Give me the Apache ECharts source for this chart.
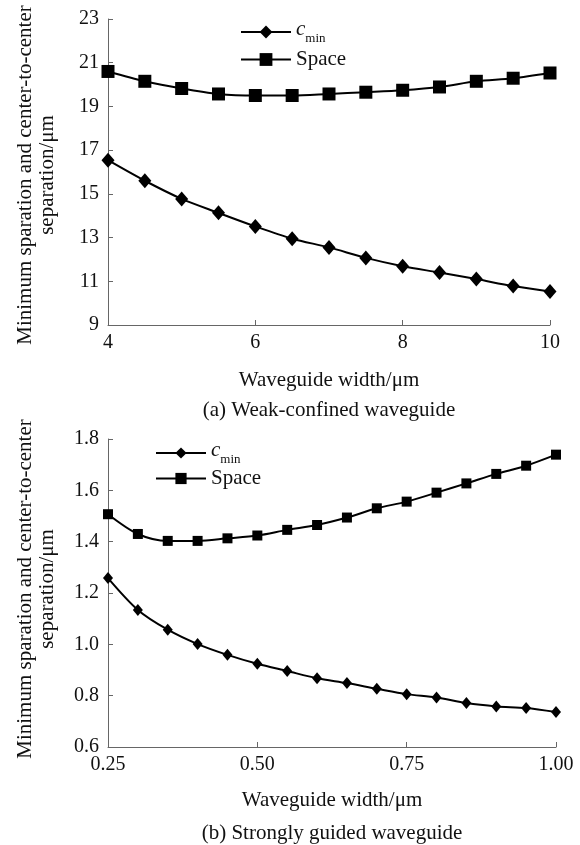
<!DOCTYPE html>
<html>
<head>
<meta charset="utf-8">
<script src="https://cdn.jsdelivr.net/npm/echarts@6/dist/echarts.min.js"></script>
<style>
  html, body { margin: 0; padding: 0; background: #fff; }
  #chart { width: 580px; height: 845px; }
</style>
</head>
<body>
<div id="chart"></div>
<script>
// (a) weak-confined waveguide, width 4..10 um
const widthA = [4, 4.5, 5, 5.5, 6, 6.5, 7, 7.5, 8, 8.5, 9, 9.5, 10]
const cminA = [16.54, 15.60, 14.77, 14.13, 13.51, 12.95, 12.55, 12.07, 11.69, 11.40, 11.10, 10.78, 10.53]
const spaceA = [20.60, 20.15, 19.82, 19.57, 19.50, 19.50, 19.57, 19.65, 19.74, 19.89, 20.15, 20.29, 20.53]

// (b) strongly guided waveguide, width 0.25..1.00 um
const widthB = [0.25, 0.30, 0.35, 0.40, 0.45, 0.50, 0.55, 0.60, 0.65, 0.70, 0.75, 0.80, 0.85, 0.90, 0.95, 1.00]
const cminB = [1.258, 1.134, 1.057, 1.001, 0.959, 0.924, 0.896, 0.868, 0.849, 0.827, 0.806, 0.793, 0.771, 0.758, 0.752, 0.736]
const spaceB = [1.507, 1.430, 1.403, 1.403, 1.413, 1.424, 1.446, 1.465, 1.494, 1.530, 1.556, 1.591, 1.627, 1.664, 1.696, 1.739]

const yTitle = 'Minimum sparation and center-to-center\nseparation/\u03bcm'
const xTitle = 'Waveguide width/\u03bcm'

const FONT = '"Liberation Serif", "Times New Roman", serif'
const pairs = (xs, ys) => xs.map((x, i) => [x, ys[i]])

const axisCommon = {
    axisLine: { lineStyle: { color: '#666', width: 1 } },
    axisTick: { inside: true, length: 5, lineStyle: { color: '#666' } },
    splitLine: { show: false },
    axisLabel: { color: '#111', fontFamily: FONT, fontSize: 20 }
}

const legendRich = {
    i: { fontStyle: 'italic', fontSize: 21, fontFamily: FONT, color: '#111', verticalAlign: 'bottom', padding: [0, 0, 5, 0] },
    s: { fontSize: 13, fontFamily: FONT, color: '#111', verticalAlign: 'bottom' }
}
const legendNames = { cminA: '{i|c}{s|min}', cminB: '{i|c}{s|min}', spaceA: 'Space', spaceB: 'Space' }

function lineSeries(name, xi, data, symbol, size) {
    return {
        name: name,
        type: 'line',
        xAxisIndex: xi,
        yAxisIndex: xi,
        data: data,
        smooth: 0.3,
        symbol: symbol,
        symbolSize: size,
        showAllSymbol: true,
        itemStyle: { color: '#000' },
        lineStyle: { color: '#000', width: 2 }
    }
}

const chart = echarts.init(document.getElementById('chart'))
chart.setOption({
    backgroundColor: '#fff',
    animation: false,
    grid: [
        { left: 108, top: 19, width: 442, height: 306 },
        { left: 108, top: 439, width: 448, height: 308 }
    ],
    xAxis: [
        Object.assign({}, axisCommon, {
            type: 'value', gridIndex: 0, min: 4, max: 10, interval: 2,
            axisLabel: Object.assign({}, axisCommon.axisLabel, { margin: 8 })
        }),
        Object.assign({}, axisCommon, {
            type: 'value', gridIndex: 1, min: 0.25, max: 1.0, interval: 0.25,
            axisLabel: Object.assign({}, axisCommon.axisLabel, { margin: 8, formatter: v => v.toFixed(2) })
        })
    ],
    yAxis: [
        Object.assign({}, axisCommon, {
            type: 'value', gridIndex: 0, min: 9, max: 23, interval: 2,
            axisLabel: Object.assign({}, axisCommon.axisLabel, { margin: 9 })
        }),
        Object.assign({}, axisCommon, {
            type: 'value', gridIndex: 1, min: 0.6, max: 1.8, interval: 0.2,
            axisLabel: Object.assign({}, axisCommon.axisLabel, { margin: 9, formatter: v => v.toFixed(1) })
        })
    ],
    legend: [
        {
            data: ['cminA', 'spaceA'], orient: 'vertical', left: 235, top: 14,
            itemWidth: 50, itemHeight: 16, itemGap: 4,
            formatter: n => legendNames[n],
            textStyle: { fontFamily: FONT, fontSize: 21, color: '#111', rich: legendRich }
        },
        {
            data: ['cminB', 'spaceB'], orient: 'vertical', left: 150, top: 435,
            itemWidth: 50, itemHeight: 14, itemGap: 2,
            formatter: n => legendNames[n],
            textStyle: { fontFamily: FONT, fontSize: 21, color: '#111', rich: legendRich }
        }
    ],
    series: [
        lineSeries('cminA', 0, pairs(widthA, cminA), 'diamond', [13, 15]),
        lineSeries('spaceA', 0, pairs(widthA, spaceA), 'rect', 13),
        lineSeries('cminB', 1, pairs(widthB, cminB), 'diamond', [10, 12]),
        lineSeries('spaceB', 1, pairs(widthB, spaceB), 'rect', 10)
    ],
    graphic: [
        { type: 'text', x: 36, y: 175, rotation: Math.PI / 2,
          style: { text: yTitle, align: 'center', verticalAlign: 'middle', fontFamily: FONT, fontSize: 21, lineHeight: 22, fill: '#111' } },
        { type: 'text', x: 36, y: 589, rotation: Math.PI / 2,
          style: { text: yTitle, align: 'center', verticalAlign: 'middle', fontFamily: FONT, fontSize: 21, lineHeight: 22, fill: '#111' } },
        { type: 'text', x: 329, y: 380,
          style: { text: xTitle, align: 'center', verticalAlign: 'middle', fontFamily: FONT, fontSize: 21, fill: '#111' } },
        { type: 'text', x: 329, y: 410,
          style: { text: '(a) Weak-confined waveguide', align: 'center', verticalAlign: 'middle', fontFamily: FONT, fontSize: 21, fill: '#111' } },
        { type: 'text', x: 332, y: 800,
          style: { text: xTitle, align: 'center', verticalAlign: 'middle', fontFamily: FONT, fontSize: 21, fill: '#111' } },
        { type: 'text', x: 332, y: 833,
          style: { text: '(b) Strongly guided waveguide', align: 'center', verticalAlign: 'middle', fontFamily: FONT, fontSize: 21, fill: '#111' } }
    ]
})
</script>
</body>
</html>
